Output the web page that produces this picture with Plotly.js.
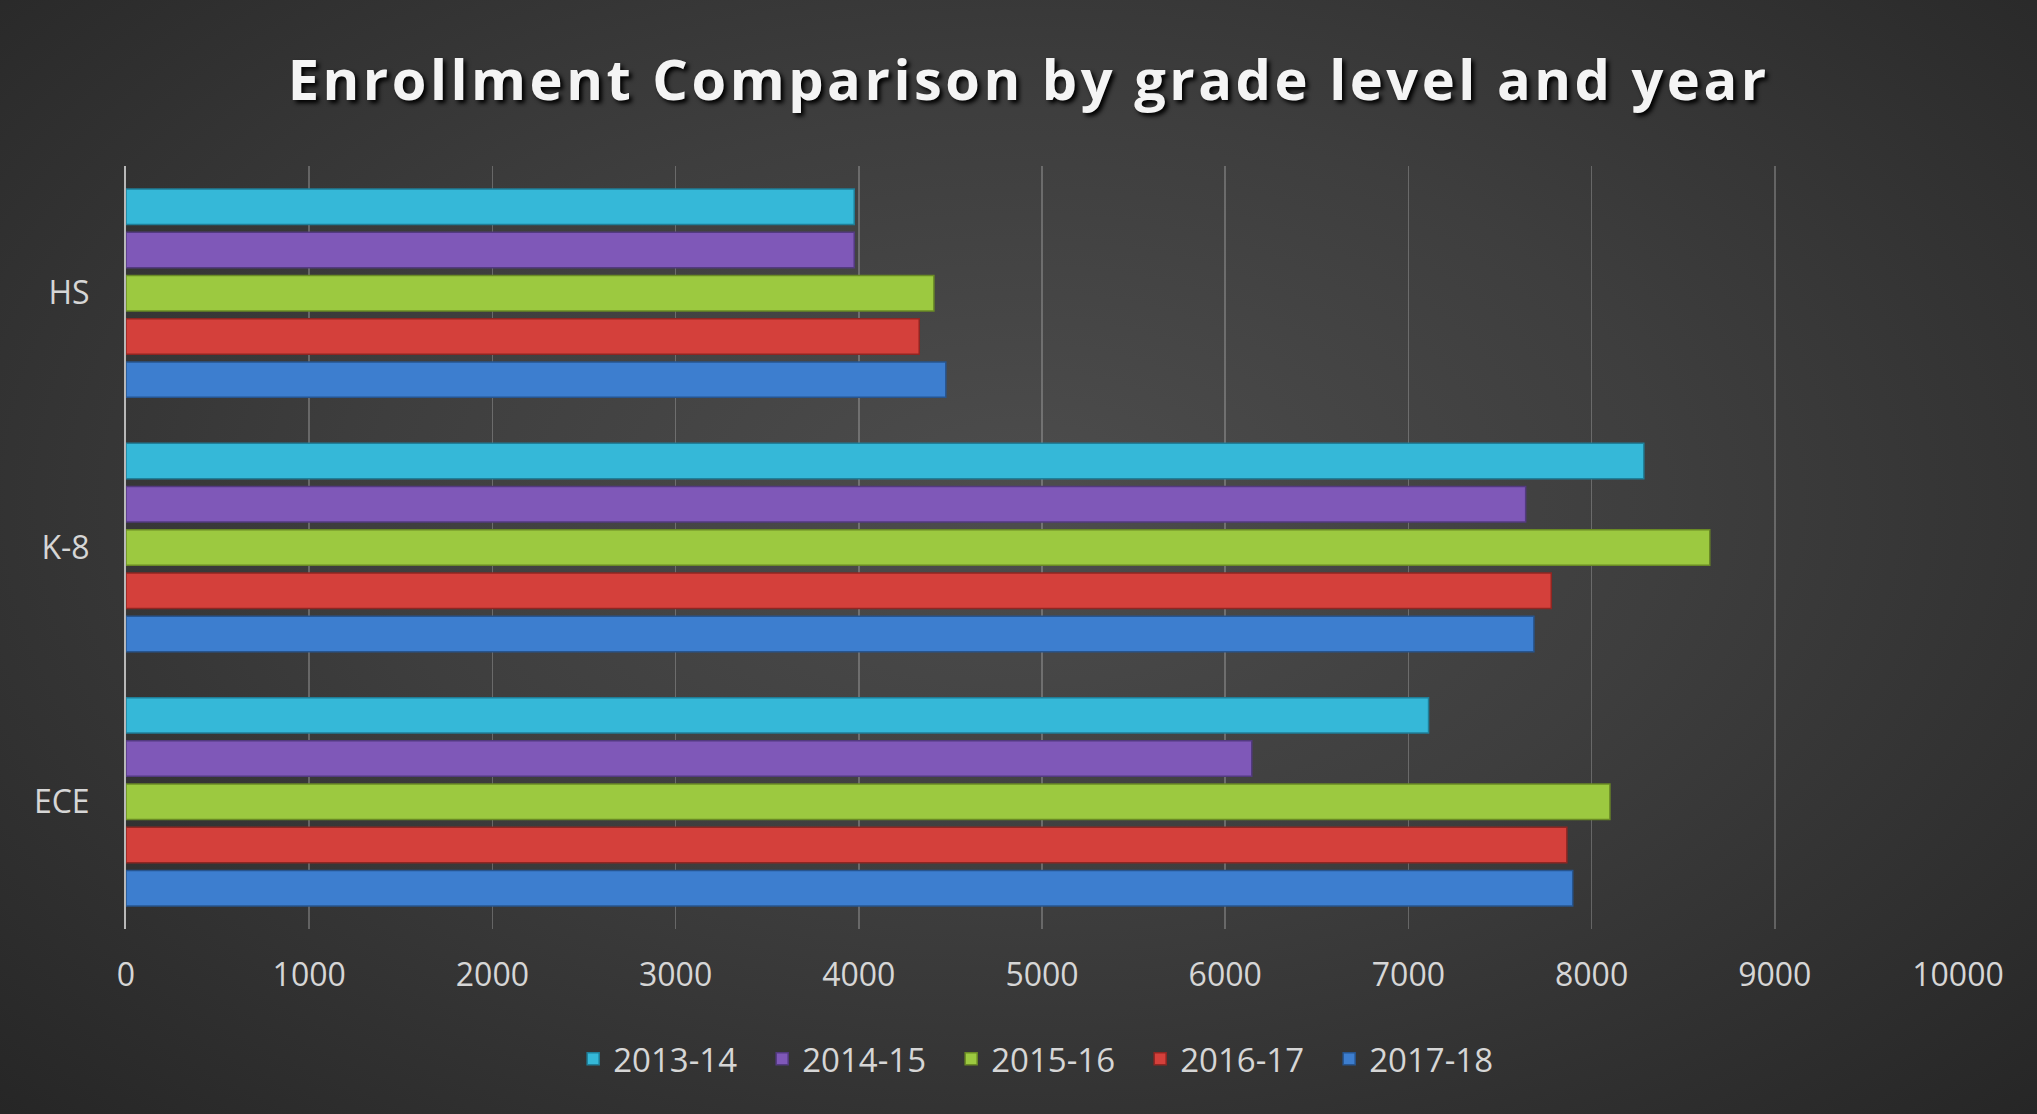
<!DOCTYPE html>
<html>
<head>
<meta charset="utf-8">
<script src="https://cdn.plot.ly/plotly-3.0.1.min.js"></script>
<style>
html,body{margin:0;padding:0;}
#chart{width:2037px;height:1114px;background:radial-gradient(ellipse at 50% 45%, #4d4d4d 0%, #3e3e3e 45%, #262626 100%);}
#chart .gtitle{letter-spacing:3.5px;}
</style>
</head>
<body>
<div id="chart"></div>
<script>
const categories = ['HS', 'K-8', 'ECE'];
const years = ['2013-14', '2014-15', '2015-16', '2016-17', '2017-18'];
const v2013_14 = [3975, 8285, 7110];
const v2014_15 = [3975, 7640, 6145];
const v2015_16 = [4410, 8645, 8100];
const v2016_17 = [4330, 7780, 7865];
const v2017_18 = [4475, 7685, 7897];
const xTicks = [0, 1000, 2000, 3000, 4000, 5000, 6000, 7000, 8000, 9000, 10000];

const seriesValues = [v2013_14, v2014_15, v2015_16, v2016_17, v2017_18];
const fills = ['#35b8d8', '#7f58b8', '#9cc940', '#d4403b', '#3d7ecf'];
const edges = ['#1f7f99', '#533a80', '#6a8a25', '#8f2622', '#27558f'];

const traces = years.map((name, i) => ({
  type: 'bar',
  orientation: 'h',
  name: name,
  y: categories,
  x: seriesValues[i],
  marker: {color: fills[i], line: {color: edges[i], width: 1.5}},
  hoverinfo: 'x+name'
}));

const layout = {
  width: 2037,
  height: 1114,
  paper_bgcolor: 'rgba(0,0,0,0)',
  plot_bgcolor: 'rgba(0,0,0,0)',
  margin: {l: 126, r: 79, t: 166, b: 185},
  barmode: 'group',
  bargap: 0.15,
  bargroupgap: 0.18,
  title: {
    text: 'Enrollment Comparison by grade level and year',
    x: 0.505, xref: 'container', xanchor: 'center',
    y: 0.928, yref: 'container', yanchor: 'middle',
    font: {family: 'Open Sans, sans-serif', size: 56, color: '#f4f4f4', weight: 700, shadow: '3px 3px 4px #000000'}
  },
  xaxis: {
    range: [0, 10000],
    tickvals: xTicks,
    ticktext: xTicks.map(String),
    showgrid: true,
    gridcolor: 'rgba(200,200,200,0.32)',
    gridwidth: 1.5,
    zeroline: false,
    showline: false,
    ticks: '',
    ticklabelstandoff: 24,
    tickfont: {family: 'Open Sans, sans-serif', size: 32, color: '#d6d6d6'},
    fixedrange: true
  },
  yaxis: {
    autorange: 'reversed',
    type: 'category',
    showgrid: false,
    zeroline: false,
    showline: true,
    linecolor: '#b8b8b8',
    linewidth: 2,
    ticks: '',
    ticklabelstandoff: 28,
    tickfont: {family: 'Open Sans, sans-serif', size: 32, color: '#d6d6d6'},
    fixedrange: true
  },
  showlegend: true,
  legend: {
    orientation: 'h',
    x: 0.502, xanchor: 'center',
    y: -0.17, yanchor: 'middle',
    font: {family: 'Open Sans, sans-serif', size: 33, color: '#d6d6d6'},
    bgcolor: 'rgba(0,0,0,0)',
    itemwidth: 30,
    entrywidth: 144,
    entrywidthmode: 'pixels',
    traceorder: 'normal'
  }
};

Plotly.newPlot('chart', traces, layout, {displayModeBar: false, staticPlot: true});
</script>
</body>
</html>
